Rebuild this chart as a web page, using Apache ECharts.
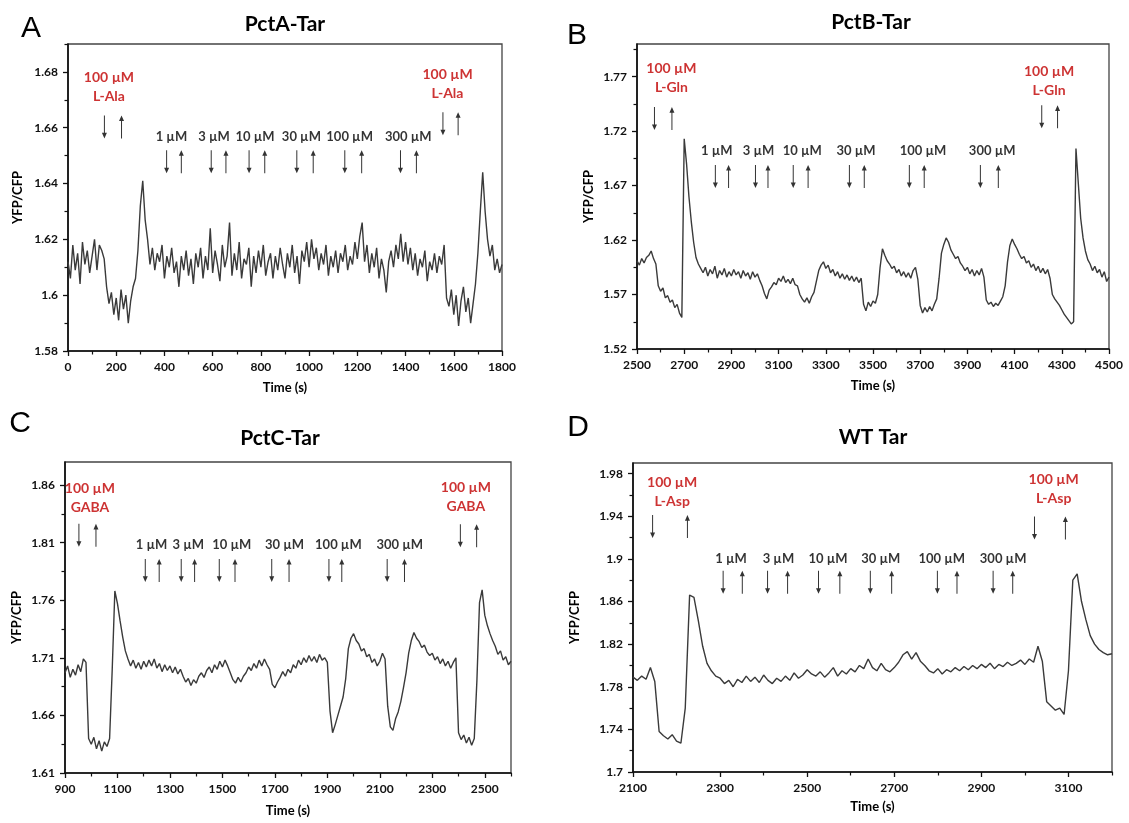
<!DOCTYPE html>
<html>
<head>
<meta charset="utf-8">
<title>YFP/CFP responses of Tar hybrids</title>
<style>
  html, body { margin: 0; background: #fff; }
  #chart { width: 1129px; height: 823px; }
</style>
</head>
<body>
<div id="chart"></div>
<script src="https://cdn.jsdelivr.net/npm/echarts@6.0.0/dist/echarts.min.js"></script>
<script>
// traces, one value every 10 s
const startA = 0, startB = 2500, startC = 900, startD = 2100;
const step = 10;

const ratioA = [
  1.612,1.606,1.618,1.609,1.615,1.604,1.619,1.611,1.616,1.608,
  1.614,1.620,1.609,1.618,1.616,1.613,1.603,1.597,1.601,1.593,
  1.599,1.591,1.602,1.595,1.600,1.590,1.598,1.603,1.606,1.616,
  1.632,1.641,1.627,1.620,1.611,1.617,1.609,1.615,1.612,1.618,
  1.606,1.614,1.610,1.617,1.608,1.612,1.603,1.614,1.609,1.616,
  1.607,1.613,1.604,1.615,1.610,1.617,1.606,1.614,1.609,1.624,
  1.608,1.616,1.611,1.605,1.618,1.610,1.614,1.626,1.607,1.615,
  1.609,1.619,1.606,1.613,1.611,1.617,1.603,1.614,1.608,1.616,
  1.610,1.618,1.607,1.612,1.615,1.606,1.614,1.609,1.617,1.611,
  1.606,1.615,1.610,1.618,1.608,1.614,1.604,1.616,1.612,1.619,
  1.610,1.620,1.613,1.617,1.609,1.615,1.611,1.618,1.607,1.614,
  1.610,1.616,1.608,1.615,1.612,1.618,1.609,1.614,1.611,1.619,
  1.613,1.621,1.626,1.612,1.618,1.608,1.615,1.610,1.617,1.606,
  1.613,1.609,1.601,1.612,1.616,1.610,1.618,1.613,1.622,1.612,
  1.619,1.611,1.617,1.609,1.615,1.607,1.613,1.610,1.616,1.605,
  1.612,1.609,1.615,1.608,1.614,1.611,1.618,1.599,1.596,1.602,
  1.593,1.600,1.589,1.598,1.603,1.594,1.599,1.590,1.597,1.604,
  1.615,1.630,1.644,1.630,1.620,1.614,1.618,1.609,1.613,1.608,
  1.611
];

const ratioB = [
  1.601,1.597,1.603,1.599,1.604,1.606,1.610,1.603,1.598,1.578,
  1.573,1.576,1.567,1.569,1.563,1.565,1.558,1.561,1.553,1.549,
  1.713,1.690,1.660,1.637,1.618,1.604,1.598,1.594,1.590,1.595,
  1.587,1.593,1.589,1.596,1.585,1.592,1.588,1.594,1.586,1.591,
  1.587,1.593,1.588,1.591,1.585,1.592,1.587,1.590,1.584,1.591,
  1.586,1.589,1.583,1.578,1.571,1.566,1.574,1.577,1.581,1.579,
  1.585,1.582,1.587,1.581,1.584,1.580,1.585,1.579,1.578,1.570,
  1.566,1.563,1.567,1.562,1.568,1.572,1.582,1.592,1.597,1.600,
  1.594,1.597,1.590,1.593,1.587,1.591,1.585,1.589,1.584,1.588,
  1.583,1.587,1.582,1.586,1.581,1.585,1.561,1.555,1.563,1.559,
  1.564,1.562,1.570,1.595,1.612,1.606,1.601,1.598,1.594,1.596,
  1.590,1.593,1.587,1.591,1.586,1.590,1.585,1.592,1.595,1.584,
  1.560,1.553,1.558,1.554,1.559,1.555,1.561,1.566,1.585,1.608,
  1.616,1.622,1.618,1.611,1.607,1.603,1.605,1.599,1.596,1.592,
  1.595,1.589,1.593,1.587,1.592,1.588,1.594,1.586,1.565,1.561,
  1.563,1.559,1.562,1.560,1.564,1.568,1.578,1.600,1.615,1.621,
  1.616,1.612,1.607,1.603,1.605,1.599,1.601,1.595,1.598,1.592,
  1.596,1.590,1.594,1.589,1.593,1.585,1.570,1.566,1.563,1.560,
  1.556,1.552,1.549,1.546,1.543,1.545,1.704,1.672,1.640,1.622,
  1.610,1.602,1.598,1.592,1.596,1.590,1.593,1.586,1.591,1.582,
  1.586
];

const ratioC = [
  1.697,1.703,1.693,1.700,1.695,1.704,1.698,1.709,1.706,1.640,
  1.635,1.641,1.631,1.638,1.629,1.637,1.633,1.640,1.700,1.768,
  1.757,1.742,1.728,1.716,1.709,1.703,1.708,1.701,1.706,1.700,
  1.707,1.702,1.708,1.703,1.709,1.701,1.705,1.698,1.704,1.699,
  1.703,1.697,1.702,1.696,1.700,1.694,1.689,1.692,1.686,1.691,
  1.688,1.694,1.697,1.693,1.699,1.702,1.697,1.704,1.700,1.707,
  1.702,1.708,1.703,1.697,1.691,1.688,1.693,1.689,1.694,1.697,
  1.702,1.699,1.705,1.701,1.708,1.703,1.709,1.704,1.700,1.687,
  1.684,1.689,1.693,1.698,1.694,1.700,1.697,1.704,1.701,1.708,
  1.704,1.710,1.706,1.712,1.707,1.711,1.706,1.713,1.708,1.710,
  1.706,1.664,1.645,1.652,1.660,1.668,1.676,1.692,1.718,1.727,
  1.731,1.725,1.722,1.716,1.718,1.711,1.713,1.706,1.709,1.703,
  1.707,1.714,1.709,1.668,1.650,1.647,1.657,1.663,1.672,1.684,
  1.697,1.714,1.725,1.732,1.727,1.724,1.719,1.721,1.715,1.712,
  1.714,1.708,1.711,1.705,1.709,1.703,1.707,1.701,1.706,1.710,
  1.645,1.639,1.643,1.636,1.641,1.634,1.640,1.690,1.758,1.769,
  1.747,1.738,1.731,1.725,1.720,1.713,1.716,1.708,1.711,1.704,
  1.707
];

const ratioD = [
  1.789,1.786,1.790,1.787,1.798,1.785,1.738,1.734,1.731,1.735,
  1.729,1.727,1.760,1.866,1.864,1.842,1.818,1.802,1.795,1.790,
  1.788,1.783,1.786,1.780,1.787,1.784,1.790,1.785,1.789,1.784,
  1.791,1.786,1.783,1.788,1.785,1.790,1.786,1.793,1.788,1.791,
  1.796,1.792,1.790,1.794,1.789,1.793,1.798,1.790,1.795,1.792,
  1.797,1.794,1.800,1.797,1.806,1.798,1.795,1.802,1.796,1.794,
  1.798,1.803,1.810,1.813,1.806,1.812,1.804,1.800,1.795,1.793,
  1.797,1.792,1.796,1.794,1.798,1.795,1.799,1.796,1.800,1.797,
  1.801,1.798,1.802,1.797,1.801,1.799,1.803,1.800,1.802,1.805,
  1.801,1.806,1.803,1.818,1.804,1.766,1.762,1.758,1.760,1.754,
  1.795,1.880,1.886,1.860,1.843,1.828,1.820,1.815,1.812,1.810,
  1.811
];

// tick labels
const xTicksA = [0, 200, 400, 600, 800, 1000, 1200, 1400, 1600, 1800];
const xTicksB = [2500, 2700, 2900, 3100, 3300, 3500, 3700, 3900, 4100, 4300, 4500];
const xTicksC = [900, 1100, 1300, 1500, 1700, 1900, 2100, 2300, 2500];
const xTicksD = [2100, 2300, 2500, 2700, 2900, 3100];
const yTicksA = [1.58, 1.60, 1.62, 1.64, 1.66, 1.68];
const yTicksB = [1.52, 1.57, 1.62, 1.67, 1.72, 1.77];
const yTicksC = [1.61, 1.66, 1.71, 1.76, 1.81, 1.86];
const yTicksD = [1.70, 1.74, 1.78, 1.82, 1.86, 1.90, 1.94, 1.98];

// stimulus on / off times (s) and doses
const doses = ["1 µM", "3 µM", "10 µM", "30 µM", "100 µM", "300 µM"];
const onA = [151, 409, 594, 751, 949, 1148, 1379, 1555];
const offA = [222, 470, 655, 816, 1017, 1218, 1445, 1618];
const onB = [2574, 2832, 3002, 3162, 3400, 3654, 3955, 4215];
const offB = [2648, 2888, 3055, 3225, 3463, 3717, 4031, 4282];
const onC = [953, 1206, 1343, 1488, 1688, 1906, 2128, 2407];
const offC = [1018, 1259, 1394, 1548, 1754, 1955, 2194, 2469];
const onD = [2145, 2307, 2409, 2526, 2645, 2799, 2927, 3022];
const offD = [2225, 2351, 2455, 2575, 2694, 2844, 2972, 3093];

const font = "Lato";
const ink = "#000";
const traceColor = "#3a3a3a";
const red = "#c00000";
const downArrow = "path://M4,0 L6,0 L6,19 L10,19 L5,25 L0,19 L4,19 Z";
const upArrow = "path://M5,0 L10,6 L6,6 L6,25 L4,25 L4,6 L0,6 Z";

const panels = [
  { grid: { left: 68, top: 44, width: 434, height: 307 }, x: [0, 1800, 100], y: [1.58, 1.69, 0.01],
    xTicks: xTicksA, yTicks: yTicksA, start: startA, values: ratioA, on: onA, off: offA,
    ligand: "L-Ala", title: "PctA-Tar", letter: "A", titleAt: [285, 24], letterAt: [31, 29],
    redY: [1.6745, 1.6756], redT: [170, 1574], redArrowY: [1.6603, 1.6614],
    doseT: [429, 606, 776, 968, 1168, 1411], doseY: 1.6566, arrowY: 1.6478, yGap: 44, xGap: 30 },
  { grid: { left: 637, top: 44, width: 472, height: 305 }, x: [2500, 4500, 100], y: [1.52, 1.80, 0.025],
    xTicks: xTicksB, yTicks: yTicksB, start: startB, values: ratioB, on: onB, off: offB,
    ligand: "L-Gln", title: "PctB-Tar", letter: "B", titleAt: [871, 22], letterAt: [577, 36],
    redY: [1.7685, 1.7657], redT: [2646, 4246], redArrowY: [1.7315, 1.7331],
    doseT: [2838, 3015, 3200, 3428, 3712, 4005], doseY: 1.7023, arrowY: 1.6783, yGap: 42, xGap: 30 },
  { grid: { left: 65, top: 462, width: 446, height: 311 }, x: [900, 2600, 100], y: [1.61, 1.88, 0.025],
    xTicks: xTicksC, yTicks: yTicksC, start: startC, values: ratioC, on: onC, off: offC,
    ligand: "GABA", title: "PctC-Tar", letter: "C", titleAt: [280, 438], letterAt: [20, 424],
    redY: [1.8485, 1.8493], redT: [995, 2428], redArrowY: [1.8163, 1.8160],
    doseT: [1230, 1370, 1536, 1737, 1942, 2176], doseY: 1.8081, arrowY: 1.7859, yGap: 42, xGap: 31 },
  { grid: { left: 633, top: 463, width: 479, height: 309 }, x: [2100, 3200, 100], y: [1.70, 1.99, 0.02],
    xTicks: xTicksD, yTicks: yTicksD, start: startD, values: ratioD, on: onD, off: offD,
    ligand: "L-Asp", title: "WT Tar", letter: "D", titleAt: [873, 437], letterAt: [578, 428],
    redY: [1.9632, 1.966], redT: [2190, 3066], redArrowY: [1.9303, 1.929],
    doseT: [2325, 2434, 2548, 2669, 2809, 2950], doseY: 1.8999, arrowY: 1.878, yGap: 52, xGap: 28 },
];

function minorTicks(min, max, stepSize, major) {
  const out = [];
  for (let v = min; v <= max + 1e-9; v += stepSize) {
    const r = +v.toFixed(4);
    if (!major.some((m) => Math.abs(m - r) < 1e-6)) out.push(r);
  }
  return out;
}

const labelText = { fontFamily: font, fontWeight: "bold", fontSize: 12, color: "#111" };

function majorAxis(g, pos, range, ticks, name, gap) {
  return {
    type: "value", gridIndex: g, position: pos, min: range[0], max: range[1],
    name, nameLocation: "middle", nameGap: gap, nameRotate: pos === "left" ? 90 : 0,
    nameTextStyle: { fontFamily: font, fontWeight: "bold", fontSize: 13, color: ink },
    axisLine: { show: true, onZero: false, lineStyle: { color: "#111", width: 1.7 } },
    axisTick: { show: true, customValues: ticks, length: 5, lineStyle: { color: "#111", width: 1.3 } },
    axisLabel: { ...labelText, customValues: ticks, margin: 10, formatter: (v) => String(+(+v).toFixed(3)) },
    splitLine: { show: false },
  };
}

function minorAxis(g, pos, range, ticks) {
  return {
    type: "value", gridIndex: g, position: pos, min: range[0], max: range[1],
    axisLine: { show: false },
    axisTick: { show: true, customValues: ticks, length: 3.5, lineStyle: { color: "#111", width: 1.2 } },
    axisLabel: { show: false },
    splitLine: { show: false },
  };
}

const grids = [], xAxes = [], yAxes = [], series = [], graphics = [];

panels.forEach((p, i) => {
  grids.push({ ...p.grid, show: true, borderColor: "#444", borderWidth: 1.3 });
  xAxes.push(majorAxis(i, "bottom", p.x, p.xTicks, "Time (s)", p.xGap));
  yAxes.push(majorAxis(i, "left", p.y, p.yTicks, "YFP/CFP", p.yGap));

  series.push({
    type: "line", xAxisIndex: i, yAxisIndex: i, showSymbol: false, silent: true,
    lineStyle: { color: traceColor, width: 1.4 },
    data: p.values.map((v, k) => [p.start + k * step, v]),
  });

  const arrowY = p.on.map((t, k) => (k === 0 ? p.redArrowY[0] : k === p.on.length - 1 ? p.redArrowY[1] : p.arrowY));
  [[p.on, downArrow], [p.off, upArrow]].forEach(([times, sym]) => {
    series.push({
      type: "scatter", xAxisIndex: i, yAxisIndex: i, silent: true, z: 4,
      symbol: sym, symbolSize: [5, 23], itemStyle: { color: "#000" },
      data: times.map((t, k) => [t, arrowY[k]]),
    });
  });

  const textItem = { show: true, position: "inside", fontFamily: font, fontWeight: "bold", formatter: (d) => d.name };
  series.push({
    type: "scatter", xAxisIndex: i, yAxisIndex: i, silent: true, z: 5,
    symbol: "rect", symbolSize: 1, itemStyle: { color: "transparent" },
    label: { ...textItem, fontSize: 13, color: "#000" },
    data: doses.map((d, k) => ({ name: d, value: [p.doseT[k], p.doseY] })),
  });
  series.push({
    type: "scatter", xAxisIndex: i, yAxisIndex: i, silent: true, z: 5,
    symbol: "rect", symbolSize: 1, itemStyle: { color: "transparent" },
    label: { ...textItem, fontSize: 14, lineHeight: 19, color: red },
    data: p.redT.map((t, k) => ({ name: "100 µM\n" + p.ligand, value: [t, p.redY[k]] })),
  });

  graphics.push({
    type: "text", x: p.titleAt[0], y: p.titleAt[1],
    style: { text: p.title, font: "bold 21px " + font, fill: "#000", align: "center", verticalAlign: "middle" },
  });
  graphics.push({
    type: "text", x: p.letterAt[0], y: p.letterAt[1],
    style: { text: p.letter, font: "30px 'Liberation Sans'", fill: "#000", align: "center", verticalAlign: "middle" },
  });
});

// overlay axes that only carry the short minor ticks
panels.forEach((p, i) => {
  xAxes.push(minorAxis(i, "bottom", p.x, minorTicks(p.x[0], p.x[1], p.x[2], p.xTicks)));
  yAxes.push(minorAxis(i, "left", p.y, minorTicks(p.y[0], p.y[1], p.y[2], p.yTicks)));
});

const chart = echarts.init(document.getElementById("chart"));
chart.setOption({
  animation: false,
  backgroundColor: "#fff",
  grid: grids,
  xAxis: xAxes,
  yAxis: yAxes,
  series,
  graphic: graphics,
});
</script>
</body>
</html>
